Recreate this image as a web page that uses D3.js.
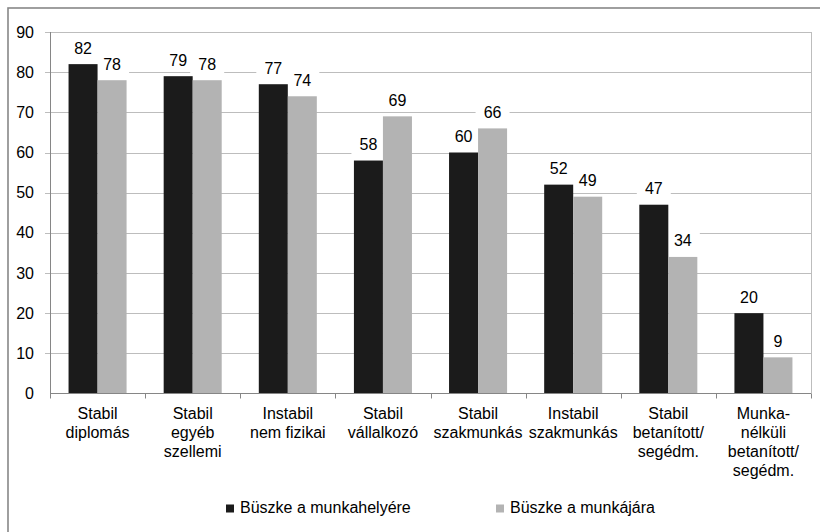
<!DOCTYPE html>
<html>
<head>
<meta charset="utf-8">
<script src="https://cdn.jsdelivr.net/npm/d3@7/dist/d3.min.js"></script>
<style>
  html, body { margin: 0; padding: 0; background: #fff; }
  svg { display: block; font-family: "Liberation Sans", Arial, sans-serif; }
</style>
</head>
<body>
<svg id="chart" width="820" height="532"></svg>
<script>
// Occupational groups (line breaks marked with "\n")
const categories = [
  "Stabil\ndiplomás",
  "Stabil\negyéb\nszellemi",
  "Instabil\nnem fizikai",
  "Stabil\nvállalkozó",
  "Stabil\nszakmunkás",
  "Instabil\nszakmunkás",
  "Stabil\nbetanított/\nsegédm.",
  "Munka-\nnélküli\nbetanított/\nsegédm."
];
const seriesNames = ["Büszke a munkahelyére", "Büszke a munkájára"];
const proudOfWorkplace = [82, 79, 77, 58, 60, 52, 47, 20];
const proudOfJob = [78, 78, 74, 69, 66, 49, 34, 9];
const yTicks = [0, 10, 20, 30, 40, 50, 60, 70, 80, 90];
const colors = ["#1b1b1b", "#b3b3b3"];

const svg = d3.select("#chart");
const plot = { left: 50, right: 811, top: 32, bottom: 393.5 };

const x = d3.scaleBand()
  .domain(d3.range(categories.length))
  .range([plot.left, plot.right])
  .paddingInner(0.39)
  .paddingOuter(0.195);
const xInner = d3.scaleBand().domain([0, 1]).range([0, x.bandwidth()]);
const y = d3.scaleLinear().domain([0, 90]).range([plot.bottom, plot.top]);

// Outer chart frame
svg.append("rect")
  .attr("x", 8).attr("y", 8).attr("width", 840).attr("height", 560)
  .attr("fill", "none").attr("stroke", "#878787").attr("stroke-width", 1.6);

// Horizontal gridlines with short outside ticks
svg.append("g").selectAll("line").data(yTicks.filter(d => d > 0)).join("line")
  .attr("x1", plot.left - 5).attr("x2", plot.right)
  .attr("y1", d => Math.round(y(d)) + 0.5).attr("y2", d => Math.round(y(d)) + 0.5)
  .attr("stroke", "#bdbdbd").attr("stroke-width", 1);

// Right edge of the plot area
svg.append("line")
  .attr("x1", plot.right + 0.5).attr("x2", plot.right + 0.5)
  .attr("y1", y(90)).attr("y2", y(0))
  .attr("stroke", "#bdbdbd");

// Y tick labels
svg.append("g").selectAll("text").data(yTicks).join("text")
  .attr("x", 34).attr("y", d => y(d))
  .attr("dy", "0.35em")
  .attr("text-anchor", "end")
  .attr("font-size", 16).attr("fill", "#000")
  .text(d => d);

const rows = categories.map((c, i) => ({ i, values: [proudOfWorkplace[i], proudOfJob[i]] }));
const cells = d => d.values.map((v, s) => ({ v, s }));
const labelPos = d => `translate(${xInner(d.s) + xInner.bandwidth() / 2},${y(d.v) - 10.5})`;

// White label backgrounds (hide gridlines behind value labels)
const boxGroups = svg.append("g").selectAll("g").data(rows).join("g")
  .attr("transform", d => `translate(${x(d.i)},0)`);
boxGroups.selectAll("rect").data(cells).join("rect")
  .attr("transform", labelPos)
  .attr("x", -17).attr("y", -15).attr("width", 34).attr("height", 19)
  .attr("fill", "#fff");

// Bars
const groups = svg.append("g").selectAll("g").data(rows).join("g")
  .attr("transform", d => `translate(${x(d.i)},0)`);
groups.selectAll("rect").data(cells).join("rect")
  .attr("x", d => xInner(d.s))
  .attr("width", xInner.bandwidth())
  .attr("y", d => y(d.v))
  .attr("height", d => y(0) - y(d.v))
  .attr("fill", d => colors[d.s]);

// Value labels
groups.selectAll("text").data(cells).join("text")
  .attr("transform", labelPos)
  .attr("text-anchor", "middle")
  .attr("font-size", 16).attr("fill", "#000")
  .text(d => d.v);

// Axes lines
svg.append("line")
  .attr("x1", plot.left + 0.5).attr("x2", plot.left + 0.5)
  .attr("y1", plot.top).attr("y2", plot.bottom)
  .attr("stroke", "#868686");
svg.append("line")
  .attr("x1", plot.left).attr("x2", plot.right)
  .attr("y1", plot.bottom).attr("y2", plot.bottom)
  .attr("stroke", "#868686");

// Category boundary ticks
const boundaries = d3.range(categories.length + 1).map(i => plot.left + i * x.step());
svg.append("g").selectAll("line").data(boundaries).join("line")
  .attr("x1", d => Math.round(d) + 0.5).attr("x2", d => Math.round(d) + 0.5)
  .attr("y1", plot.bottom).attr("y2", plot.bottom + 5)
  .attr("stroke", "#868686");

// Category labels
const catLabels = svg.append("g").selectAll("text").data(categories).join("text")
  .attr("x", (d, i) => x(i) + x.bandwidth() / 2)
  .attr("y", 419)
  .attr("text-anchor", "middle")
  .attr("font-size", 16).attr("fill", "#000");
catLabels.selectAll("tspan").data(d => d.split("\n")).join("tspan")
  .attr("x", function () { return d3.select(this.parentNode).attr("x"); })
  .attr("dy", (d, j) => j === 0 ? 0 : 19)
  .text(d => d);

// Legend
const legendX = [226, 496];
const legend = svg.append("g").selectAll("g").data(seriesNames).join("g")
  .attr("transform", (d, i) => `translate(${legendX[i]},504.5)`);
legend.append("rect")
  .attr("width", 8).attr("height", 8)
  .attr("fill", (d, i) => colors[i]);
legend.append("text")
  .attr("x", 14).attr("y", 8.5)
  .attr("font-size", 16).attr("fill", "#000")
  .text(d => d);
</script>
</body>
</html>
